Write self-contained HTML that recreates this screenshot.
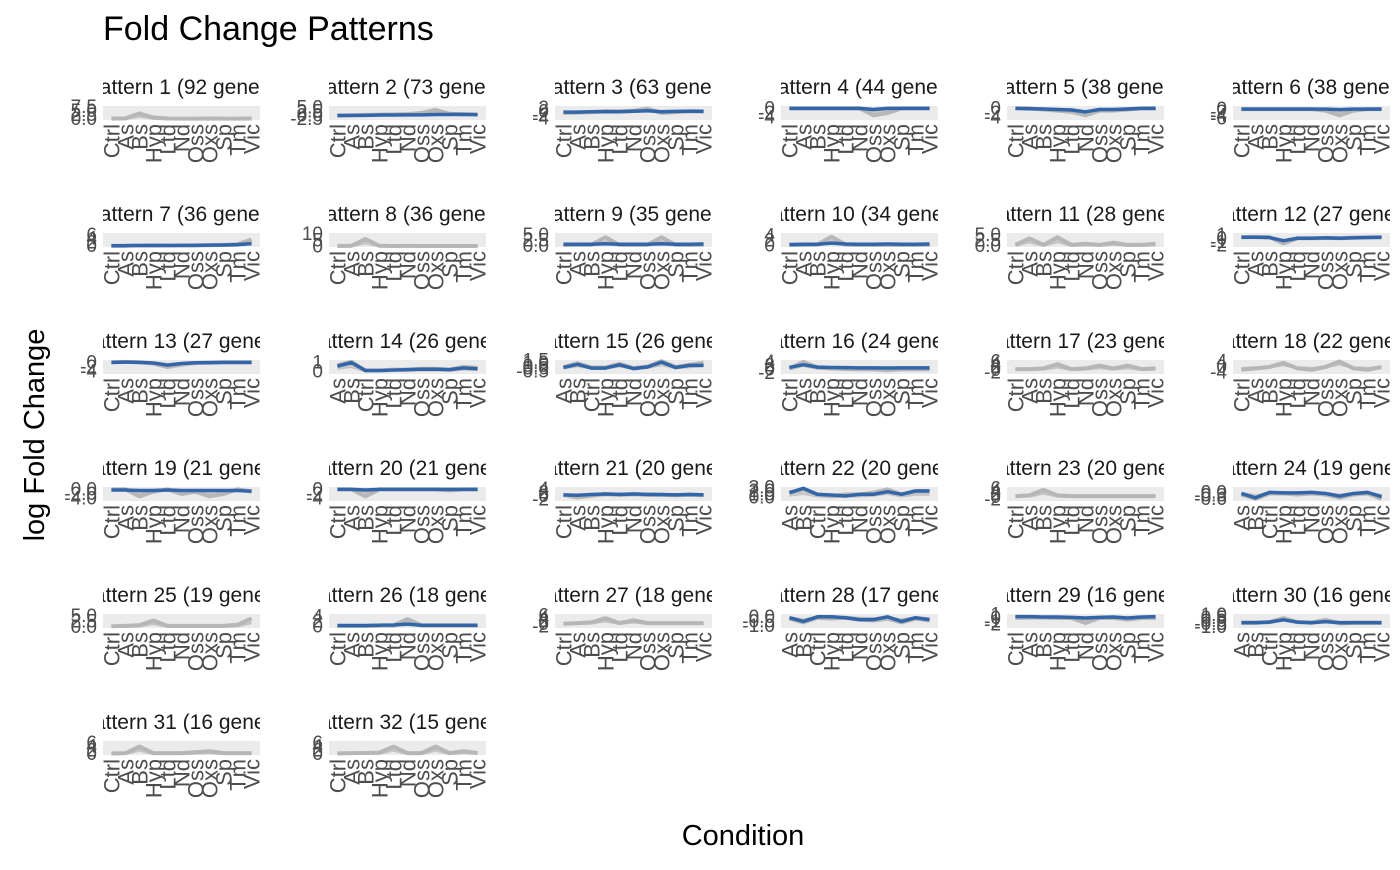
<!DOCTYPE html>
<html><head><meta charset="utf-8"><style>
body{margin:0;background:#fff;width:1400px;height:865px;overflow:hidden;font-family:"Liberation Sans",Arial,sans-serif}
svg text{font-family:"Liberation Sans",Arial,sans-serif}
</style></head><body>
<svg id="chart" width="1400" height="865">
<text x="103" y="40" font-size="34" fill="#000">Fold Change Patterns</text>
<text transform="translate(44,435) rotate(-90)" text-anchor="middle" font-size="29" fill="#000">log Fold Change</text>
<text x="743" y="845" text-anchor="middle" font-size="29" fill="#000">Condition</text>
<defs id="defs"></defs>
</svg>
<script>
const catsA = ["Ctrl","As","Bs","Hyp","Ltd","Nd","Oss","Oxs","Sp","Tm","Vic"];
const catsB = ["As","Bs","Ctrl","Hyp","Ltd","Nd","Oss","Oxs","Sp","Tm","Vic"];
const geneCounts = [92,73,63,44,38,38,36,36,35,34,28,27,27,26,26,24,23,22,21,21,20,20,20,19,19,18,18,17,16,16,16,15];
const orderB = [14,15,22,24,28,30];
const yDomains = [[-0.5,8],[-3,6],[-5,3],[-5,1],[-5,1],[-7,2],[-0.5,7],[-0.5,11],[-0.5,6],[-0.5,5],[-0.5,6],[-2.5,1.5],[-5,1],[-0.3,1.3],[-1,1.6],[-2.5,5],[-3,7],[-5,5],[-5,1],[-5,1],[-3,5],[-1,3.2],[-3,7],[-0.8,0.5],[-0.5,6],[-0.5,5],[-3,7],[-1.2,0.3],[-3,1.2],[-1.2,1.2],[-0.5,7],[-0.5,7]];
const yTicks = [["0.0","2.5","5.0","7.5"],["-2.5","0.0","2.5","5.0"],["-4","-2","0","2"],["-4","-2","0"],["-4","-2","0"],["-6","-4","-2","0"],["0","2","4","6"],["0","5","10"],["0.0","2.5","5.0"],["0","2","4"],["0.0","2.5","5.0"],["-2","-1","0","1"],["-4","-2","0"],["0","1"],["-0.5","0.0","0.5","1.0","1.5"],["-2","0","2","4"],["-2","0","2","4","6"],["-4","0","4"],["-4.0","-2.0","0.0"],["-4","-2","0"],["-2","0","2","4"],["0.0","1.0","2.0","3.0"],["-2","0","2","4","6"],["-0.6","-0.3","0.0"],["0.0","2.5","5.0"],["0","2","4"],["-2","0","2","4","6"],["-1.0","-0.5","0.0"],["-2","-1","0","1"],["-1.0","-0.5","0.0","0.5","1.0"],["0","2","4","6"],["0","2","4","6"]];
const grayA = [[0.3,0.5,3.5,1,0.4,0.3,0.3,0.4,0.3,0.3,0.4],[0,0,0.3,0.4,0.6,0.8,1.5,3.5,1,0.5,0.6],[-1,-0.8,-0.5,0,0,0.3,1.5,-1,-0.5,0,-0.2],[0,0,0,0,0,0,-3,-2,0,0,0],[0,0,-0.5,-1,-1.5,-3,-1,-1,-0.5,0,0],[0,0,0,0,0,0,-1,-4,-1,0,0],[0.2,0.2,0.3,0.4,0.3,0.3,0.4,0.5,0.6,1,3.5],[0.3,0.5,6,0.5,0.3,0.4,0.3,0.3,0.3,0.3,0.3],[0.5,0.5,0.6,4,0.5,0.5,0.5,4,0.5,0.5,0.6],[0.3,0.3,0.5,3.5,0.5,0.3,0.3,0.4,0.3,0.3,0.5],[0.5,3.5,0.5,4,0.5,1,0.5,1.5,0.5,0.5,1],[0.3,0.4,0.3,-1.5,0,0,0.1,0,0.2,0.2,0.3],[0,0.2,0,-0.5,-2,-1,-0.3,-0.2,0,0,0],[0.7,1.1,0.1,0.1,0.2,0.2,0.3,0.3,0.2,0.5,0.4],[0.3,1,0.2,0.2,0.9,0.1,0.4,1.4,0.3,0.7,1.1],[0.5,4,1,0.5,0.2,0,0,-0.5,0,0,0],[0.5,0.5,1,4,0.5,1,3,1,3,0.5,1],[-2,-1,0,3,-1,-2,0,4,-1,-2,0],[0,0,-3,-1,0,-2,-1,-3,-2,0,-1],[0,0,-3,0,0,0,0,0,-0.5,0,0],[0.5,-1,0,1,0.5,1,0.5,0.5,0.3,0.5,0.3],[1.5,2.5,1,0.5,1,1,1.5,2.5,1,2,2],[0.5,1,5,1,0.5,0.5,0.5,0.5,0.5,0.5,0.5],[-0.2,-0.6,-0.1,-0.1,-0.2,-0.1,-0.2,-0.5,-0.2,-0.1,-0.6],[0.3,0.5,0.8,3,0.5,0.5,0.5,0.5,0.5,1,4],[0.3,0.3,0.3,0.5,0.5,3,0.5,0.5,0.5,0.5,0.5],[0,0.5,1,4,0.5,2.5,0.5,0.5,0.5,0.5,0.5],[-0.2,-0.6,-0.1,-0.2,-0.1,-0.3,-0.4,-0.2,-0.6,-0.2,-0.4],[0,0.1,0.1,0,0,-1.5,0,0,-0.5,0,0],[-0.3,-0.3,-0.2,0.5,-0.2,-0.3,0.2,-0.4,-0.3,-0.3,-0.3],[0.3,0.5,4,0.5,0.5,0.5,1,1.5,0.5,0.5,0.5],[0.3,0.5,0.6,0.8,4,0.5,0.5,4,0.5,1.5,0.6]];
const blueLine = [null,[-0.2,0,0,0.2,0.2,0.3,0.3,0.5,0.5,0.7,0.4],[-0.5,-0.5,-0.3,-0.2,-0.3,0,0.3,-0.3,-0.1,0,0],[0,0,0,0,0,0,-0.5,0,0,0,0],[0,-0.2,-0.3,-0.5,-0.7,-1.5,-0.5,-0.5,-0.3,0,0],[0,0,0,0,0,0,0,-0.3,0,0,0],[0.2,0.2,0.3,0.3,0.3,0.4,0.4,0.5,0.6,0.8,1.3],null,[0.8,0.8,0.8,1,0.8,0.8,0.8,1,0.8,0.8,0.9],[0.5,0.6,0.6,1,0.7,0.6,0.6,0.7,0.6,0.6,0.7],null,[0.3,0.3,0.2,-0.7,0,0,0.1,0,0.1,0.2,0.3],[0,0.1,0,-0.3,-1.2,-0.5,-0.2,-0.1,0,0,0],[0.6,1.0,0.1,0.1,0.15,0.2,0.25,0.25,0.2,0.4,0.3],[0.2,0.8,0.1,0.1,0.7,0,0.3,1.2,0.2,0.6,0.6],[1,2.5,1.2,1,0.9,0.8,0.8,0.7,0.8,0.8,0.8],null,null,[-0.3,-0.3,-0.5,-0.5,-0.3,-0.5,-0.5,-0.5,-0.5,-0.5,-0.8],[0,0,-0.3,0,0,0,0,0,0,0,0],[0.5,0.3,0.7,1,0.8,1,0.8,0.7,0.5,0.8,0.5],[1.5,2.8,1,0.8,0.5,1,1,1.8,1,2,2],null,[-0.1,-0.5,0,-0.05,-0.05,0,-0.1,-0.35,-0.1,0,-0.4],null,[0.5,0.5,0.5,0.6,0.7,1,0.6,0.6,0.6,0.6,0.6],null,[-0.1,-0.5,0,0,-0.1,-0.3,-0.3,0,-0.5,-0.1,-0.3],[0.4,0.4,0.3,0.3,0.2,0,0.2,0.3,0,0.3,0.4],[-0.3,-0.3,-0.2,0.2,-0.2,-0.3,-0.1,-0.3,-0.3,-0.3,-0.3],null,null];

const svg = document.getElementById('chart');
const NS = "http://www.w3.org/2000/svg";
const colX0 = 103, colStep = 226, rowY0 = 87, rowStep = 127, pw = 157, ph = 14;
function mk(tag, attrs){const e=document.createElementNS(NS,tag);for(const k in attrs)e.setAttribute(k,attrs[k]);return e;}
const defs = document.getElementById('defs');
geneCounts.forEach((cnt,i)=>{
  const c=i%6, r=Math.floor(i/6);
  const L=colX0+c*colStep, T=rowY0+r*rowStep;
  const pt=T+19;
  const g=mk('g',{});
  
  
  svg.appendChild(g);
  const cp=mk('clipPath',{id:'cp'+i});
  cp.appendChild(mk('rect',{x:L,y:T-22,width:pw,height:34}));
  defs.appendChild(cp);
  const st=mk('text',{x:L+pw/2,y:T+7,'text-anchor':'middle','font-size':21,fill:'#1a1a1a','clip-path':'url(#cp'+i+')'});
  
  
  st.textContent='Pattern '+(i+1)+' ('+cnt+' genes)';
  g.appendChild(st);
  const bg=mk('rect',{x:L,y:pt,width:pw,height:ph,fill:'#ebebeb'});
  
  
  g.appendChild(bg);
  const dom=yDomains[i];
  const sy=v=>pt+ph-(v-dom[0])/(dom[1]-dom[0])*ph;
  const sx=k=>L+(k+0.6)/11.2*pw;
  yTicks[i].forEach(t=>{
    const tx=mk('text',{x:L-6,y:sy(parseFloat(t))+6,'text-anchor':'end','font-size':19,fill:'#4d4d4d'});
    
    
    tx.textContent=t;g.appendChild(tx);
  });
  const cats=orderB.includes(i+1)?catsB:catsA;
  cats.forEach((cat,k)=>{
    const tx=mk('text',{transform:'translate('+(sx(k)+8)+','+(pt+ph+4)+') rotate(-90)','text-anchor':'end','font-size':22,fill:'#4d4d4d'});
    
    
    tx.textContent=cat;g.appendChild(tx);
  });
  const gv=grayA[i];
  const gp=mk('path',{d:gv.map((v,k)=>(k?'L':'M')+sx(k)+','+sy(v)).join(''),fill:'none',stroke:'#aaaaaa','stroke-width':4,'stroke-opacity':0.8,'stroke-linejoin':'round'});
  
  
  g.appendChild(gp);
  const gb=mk('path',{d:gv.map((v,k)=>(k?'L':'M')+sx(k)+','+sy(v*0.5)).join(''),fill:'none',stroke:'#b5b5b5','stroke-width':3,'stroke-opacity':0.7});
  
  
  g.appendChild(gb);
  const bv=blueLine[i];
  if(bv){
    const bp=mk('path',{d:bv.map((v,k)=>(k?'L':'M')+sx(k)+','+sy(v)).join(''),fill:'none',stroke:'#3366a8','stroke-width':3.5,'stroke-linejoin':'round'});
    
    
    g.appendChild(bp);
  }
});
</script>
</body></html>
